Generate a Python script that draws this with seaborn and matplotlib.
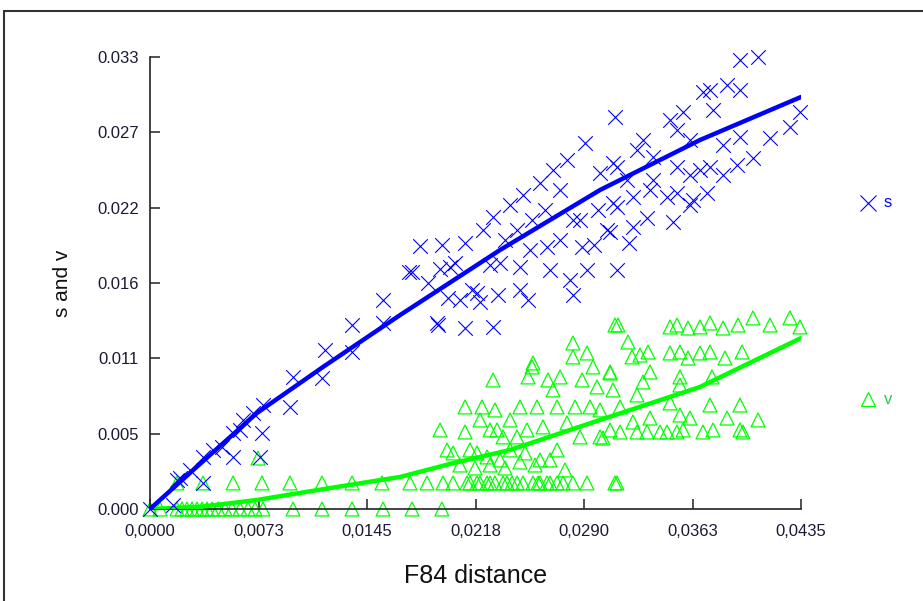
import numpy as np
import pandas as pd
import matplotlib
matplotlib.use("Agg")
import matplotlib.pyplot as plt
from matplotlib.patches import Rectangle
import seaborn as sns

# ---- data --------------------------------------------------------------------
# transitions (s): F84 distance vs s
s_x = [0.0, 0.00154, 0.00180, 0.00200, 0.00354, 0.00354, 0.00421, 0.00555, 0.00555,
       0.00621, 0.00688, 0.00755, 0.00735, 0.00748, 0.00935, 0.00956, 0.01149, 0.01169,
       0.01350, 0.01350, 0.01557, 0.01557, 0.01918, 0.01751, 0.01858, 0.01951, 0.01991,
       0.02038, 0.02105, 0.02152, 0.02205, 0.02225, 0.02292, 0.02325, 0.02339, 0.02406,
       0.02452, 0.02472, 0.02492, 0.02526, 0.02553, 0.02606, 0.02653, 0.02673, 0.02693,
       0.02740, 0.02786, 0.02806, 0.02826, 0.02873, 0.02887, 0.02907, 0.02920, 0.03007,
       0.03054, 0.03094, 0.03094, 0.03120, 0.02185, 0.02272, 0.02005, 0.03107, 0.03942,
       0.04063, 0.03942, 0.03856, 0.03742, 0.03695, 0.03762, 0.03562, 0.03475, 0.03521,
       0.03608, 0.03294, 0.03254, 0.03361, 0.03120, 0.03187, 0.03521, 0.03942, 0.03829,
       0.04143, 0.04276, 0.04343, 0.04029, 0.03922, 0.03829, 0.03742, 0.03675, 0.03608,
       0.03722, 0.03628, 0.03521, 0.03455, 0.03341, 0.03227, 0.03120, 0.03608, 0.03495,
       0.03321, 0.03227, 0.03074, 0.03361, 0.01924, 0.02105, 0.02292, 0.03201, 0.02826,
       0.02967, 0.01804, 0.01731, 0.01938, 0.02071, 0.02539, 0.02639, 0.02372, 0.02740,
       0.02994, 0.02472, 0.00267, 0.00481, 0.00601]
s_y = [0.0, 0.00029, 0.00212, 0.00226, 0.00190, 0.00380, 0.00431, 0.00555, 0.00380,
       0.00650, 0.00701, 0.00759, 0.00380, 0.00555, 0.00745, 0.00964, 0.00956, 0.01161,
       0.01343, 0.01146, 0.01358, 0.01526, 0.01358, 0.01730, 0.01650, 0.01927, 0.01541,
       0.01796, 0.01942, 0.01599, 0.01511, 0.02037, 0.02132, 0.01562, 0.01796, 0.02220,
       0.02037, 0.01767, 0.02293, 0.01526, 0.02110, 0.02380, 0.01913, 0.01745, 0.02475,
       0.02329, 0.02548, 0.01672, 0.02110, 0.02110, 0.01913, 0.02672, 0.01745, 0.02453,
       0.02037, 0.02234, 0.02526, 0.01745, 0.01577, 0.01781, 0.01767, 0.02862, 0.03278,
       0.03300, 0.03059, 0.03096, 0.03059, 0.03044, 0.02913, 0.02898, 0.02840, 0.02767,
       0.02694, 0.02694, 0.02621, 0.02570, 0.02497, 0.02402, 0.02497, 0.02716, 0.02658,
       0.02709, 0.02789, 0.02898, 0.02563, 0.02512, 0.02439, 0.02497, 0.02475, 0.02439,
       0.02307, 0.02256, 0.02307, 0.02278, 0.02329, 0.02278, 0.02205, 0.02219, 0.02095,
       0.02125, 0.02059, 0.02022, 0.02402, 0.01343, 0.01321, 0.01329, 0.01942, 0.01562,
       0.01927, 0.01920, 0.01730, 0.01752, 0.01526, 0.01891, 0.02183, 0.01964, 0.01964,
       0.02183, 0.01599, 0.00285, 0.00453, 0.00577]

# transversions (v)
v_x = [0.0, 0.00067, 0.00180, 0.00214, 0.00247, 0.00281, 0.00314, 0.00347, 0.00381,
       0.00414, 0.00454, 0.00501, 0.00548, 0.00601, 0.00655, 0.00702, 0.00755, 0.00956,
       0.01149, 0.01350, 0.01557, 0.01751, 0.01950,
       0.00180, 0.00354, 0.00555, 0.00748, 0.00935, 0.01149, 0.01350, 0.01550, 0.01737,
       0.01851, 0.01958, 0.02025, 0.02118, 0.02205, 0.02305, 0.02385, 0.02492, 0.02559,
       0.02673, 0.02760, 0.02826, 0.02920, 0.03107, 0.02138, 0.02252, 0.02359, 0.02653,
       0.02720, 0.02185, 0.02272, 0.02419, 0.02453, 0.02593, 0.02606, 0.03120,
       0.00722,
       0.01938, 0.01985, 0.02105, 0.02105, 0.02138, 0.02205, 0.02218, 0.02292, 0.02305,
       0.02319, 0.02252, 0.02339, 0.02452, 0.02472, 0.02506, 0.02526, 0.02553, 0.02586,
       0.02626, 0.02659, 0.02673, 0.02693, 0.02720, 0.02740, 0.02786, 0.02826, 0.02826,
       0.02840, 0.02873, 0.02887, 0.02920, 0.02940, 0.02960, 0.02987, 0.03007, 0.03074,
       0.03094, 0.03107, 0.02559, 0.02606, 0.02720, 0.02406, 0.02025, 0.02185, 0.02071,
       0.02172, 0.02272, 0.02372, 0.02472, 0.02573, 0.02773, 0.02359, 0.02406, 0.02272,
       0.02519,
       0.03127, 0.03194, 0.03221, 0.03328, 0.03274, 0.03475, 0.03521, 0.03595, 0.03675,
       0.03742, 0.03829, 0.03929, 0.04029, 0.04143, 0.04276, 0.04343, 0.03475, 0.03541,
       0.03595, 0.03675, 0.03742, 0.03842, 0.03956, 0.03074, 0.03341, 0.03294, 0.03541,
       0.03541, 0.03755, 0.03254, 0.03007, 0.03141, 0.03475, 0.03742, 0.03942, 0.04063,
       0.03856, 0.03541, 0.03608, 0.03341, 0.03227, 0.03074, 0.03141, 0.03254, 0.03321,
       0.03455, 0.03562, 0.03695, 0.03762, 0.03942, 0.03962, 0.03027, 0.03408, 0.03521]
v_y = [0.0, 0.0, 0.0, 0.0, 0.0, 0.0, 0.0, 0.0, 0.0,
       0.0, 0.0, 0.0, 0.0, 0.0, 0.0, 0.0, 0.0, 0.0,
       0.0, 0.0, 0.0, 0.0, 0.0,
       0.00190, 0.00190, 0.00190, 0.00190, 0.00190, 0.00190, 0.00190, 0.00190, 0.00190,
       0.00190, 0.00190, 0.00190, 0.00190, 0.00190, 0.00190, 0.00190, 0.00190, 0.00190,
       0.00190, 0.00190, 0.00190, 0.00190, 0.00190, 0.00190, 0.00190, 0.00190, 0.00190,
       0.00190, 0.00190, 0.00190, 0.00190, 0.00190, 0.00190, 0.00190, 0.00190,
       0.00372,
       0.00577, 0.00431, 0.00745, 0.00562, 0.00431, 0.00650, 0.00745, 0.00942, 0.00723,
       0.00577, 0.00380, 0.00358, 0.00526, 0.00745, 0.00409, 0.00964, 0.01037, 0.00745,
       0.00599, 0.00942, 0.00358, 0.00869, 0.00745, 0.00964, 0.00628, 0.01212, 0.01110,
       0.00745, 0.00526, 0.00942, 0.01139, 0.00745, 0.01037, 0.00891, 0.00526, 0.00993,
       0.00869, 0.01343, 0.01066, 0.00358, 0.00431, 0.00431, 0.00409, 0.00409, 0.00321,
       0.00299, 0.00321, 0.00299, 0.00343, 0.00321, 0.00285, 0.00526, 0.00650, 0.00577,
       0.00577,
       0.01343, 0.01219, 0.01110, 0.01146, 0.01124, 0.01329, 0.01343, 0.01321, 0.01329,
       0.01358, 0.01321, 0.01343, 0.01395, 0.01343, 0.01395, 0.01329, 0.01139, 0.01146,
       0.01102, 0.01139, 0.01146, 0.01102, 0.01146, 0.01000, 0.01000, 0.00927, 0.00964,
       0.00905, 0.00964, 0.00832, 0.00723, 0.00745, 0.00774, 0.00759, 0.00759, 0.00650,
       0.00664, 0.00686, 0.00664, 0.00664, 0.00635, 0.00577, 0.00562, 0.00562, 0.00562,
       0.00562, 0.00577, 0.00562, 0.00577, 0.00577, 0.00562, 0.00518, 0.00562, 0.00562]

# fitted curves
s_fit_x = [0.0, 0.00334, 0.00715, 0.01156, 0.01671, 0.02339, 0.03007, 0.03675, 0.04350]
s_fit_y = [0.0, 0.00329, 0.00701, 0.01037, 0.01416, 0.01891, 0.02329, 0.02694, 0.03008]
v_fit_x = [0.0, 0.00334, 0.00715, 0.01203, 0.01671, 0.02005, 0.02406, 0.03007, 0.03675, 0.04350]
v_fit_y = [0.0, 0.00015, 0.00066, 0.00153, 0.00234, 0.00329, 0.00431, 0.00650, 0.00891, 0.01248]

x_ticks = [0.0, 0.00725, 0.0145, 0.02175, 0.029, 0.03625, 0.0435]
x_labels = ["0,0000", "0,0073", "0,0145", "0,0218", "0,0290", "0,0363", "0,0435"]
y_ticks = [0.0, 0.0055, 0.011, 0.0165, 0.022, 0.0275, 0.033]
y_labels = ["0.000", "0.005", "0.011", "0.016", "0.022", "0.027", "0.033"]

BLUE = "#0000ff"
GREEN = "#00ff00"

# ---- plot ----------------------------------------------------------------------
sns.set_style("white")
plt.rcParams["font.family"] = ["Liberation Sans", "DejaVu Sans"]

fig = plt.figure(figsize=(9.23, 6.01), dpi=100)
ax = fig.add_axes([150 / 923, 1 - 509 / 601, 651 / 923, 452 / 601])

sns.scatterplot(x=v_x, y=v_y, marker="^", s=100, color=GREEN, linewidth=0.9,
                clip_on=False, ax=ax, zorder=2)
tri = ax.collections[-1]
tri.set_facecolor("none")
tri.set_edgecolor(GREEN)

sns.lineplot(x=v_fit_x, y=v_fit_y, color=GREEN, linewidth=3.2, sort=False,
             estimator=None, ax=ax, zorder=3)

sns.scatterplot(x=s_x, y=s_y, marker="x", s=110, color=BLUE, linewidth=0.8,
                clip_on=False, ax=ax, zorder=4)

sns.lineplot(x=s_fit_x, y=s_fit_y, color=BLUE, linewidth=3.2, sort=False,
             estimator=None, ax=ax, zorder=5)

ax.set_xlim(0, 0.0435)
ax.set_ylim(0, 0.033)
ax.set_xticks(x_ticks)
ax.set_xticklabels(x_labels)
ax.set_yticks(y_ticks)
ax.set_yticklabels(y_labels)

for side in ("top", "right"):
    ax.spines[side].set_visible(False)
for side in ("left", "bottom"):
    ax.spines[side].set_color("#222222")
    ax.spines[side].set_linewidth(1.2)

ax.tick_params(axis="both", direction="in", length=7, width=1.1, color="#222222",
               labelsize=12, labelcolor="#1a1a33", bottom=True, left=True)
ax.tick_params(axis="x", pad=11)
ax.tick_params(axis="y", pad=8)

ax.set_xlabel("F84 distance", fontsize=18, labelpad=18, color="#111111")
ax.set_ylabel("s and v", fontsize=15, labelpad=18, color="#111111")

# legend on the right
fig.lines.append(plt.Line2D([868 / 923], [1 - 203 / 601], marker="x", markersize=11,
                            markeredgewidth=0.8, color=BLUE, transform=fig.transFigure))
fig.text(884 / 923, 1 - 203 / 601, "s", color=BLUE, fontsize=12, va="center")
fig.lines.append(plt.Line2D([868 / 923], [1 - 399 / 601], marker="^", markersize=10,
                            markeredgewidth=0.9, markerfacecolor="none",
                            markeredgecolor=GREEN, transform=fig.transFigure))
fig.text(884 / 923, 1 - 399 / 601, "v", color="#22cc44", fontsize=12, va="center")

# frame around the chart (clipped at right and bottom)
fig.patches.append(Rectangle((4 / 923, -0.2), 1.2, 1 - 11 / 601 + 0.2, fill=False,
                             edgecolor="#333333", linewidth=1.5,
                             transform=fig.transFigure))

fig.savefig("out.png", dpi=100)
